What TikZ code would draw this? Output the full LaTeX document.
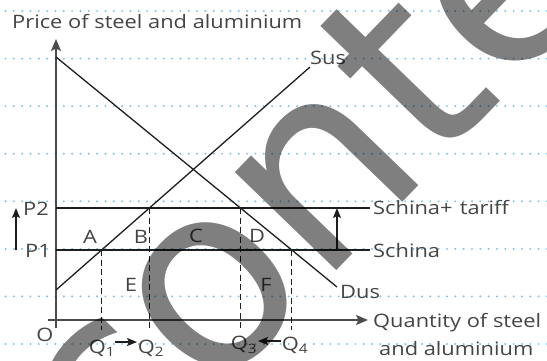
\documentclass[tikz,border=0pt]{standalone}
\usepackage{fontspec}
\setmainfont{Open Sans}
\newfontfamily\wmfont{DejaVu Sans}
\usetikzlibrary{arrows.meta,intersections}
\definecolor{dotblue}{HTML}{7CC2EE}
\definecolor{ink}{HTML}{1E1E1E}
\definecolor{txt}{HTML}{444444}
\begin{document}
\begin{tikzpicture}[x=1pt,y=-1pt,
  lbl/.style={inner sep=0, text=txt, font=\fontsize{18.5}{18.5}\selectfont, xscale=1.18},
  curve/.style={draw=ink, line width=1.3pt},
  axisline/.style={draw=ink!80, line width=1.3pt, -{Stealth[length=12pt,width=10pt,inset=2.5pt]}},
  guide/.style={draw=ink, line width=1.1pt, dash pattern=on 6pt off 3.5pt},
  shiftarrow/.style={draw=ink, line width=1.2pt, -{Stealth[length=10pt,width=8pt,inset=2pt]}},
  dotrow/.style={draw=dotblue, line width=2.2pt, line cap=round, dash pattern=on 0pt off 8.33pt},
]
\useasboundingbox (0,0) rectangle (547,360);
\clip (0,0) rectangle (547,360);
% ruled dotted rows
\foreach \yy in {11,58.6,106.1,153.7,201.3,248.9,296.4,344} {
  \draw[dotrow] (5.5,\yy) -- (547,\yy);
}
% key points
\coordinate (ytip) at (56,39);
\coordinate (ybot) at (56,328);
\coordinate (xstart) at (48,320);
\coordinate (xtip) at (368,320);
\coordinate (dtop) at (56,57);
\coordinate (dend) at (337,287);
\coordinate (sbot) at (56,290);
\coordinate (stop) at (310,67);
\coordinate (p2l) at (56,208);
\coordinate (p2r) at (370,208);
\coordinate (p1l) at (56,250);
\coordinate (p1r) at (370,250);
% axes
\draw[axisline] (ybot) -- (ytip);
\draw[axisline] (xstart) -- (xtip);
% price lines
\draw[curve, name path=ptwo] (p2l) -- (p2r);
\draw[curve, name path=pone] (p1l) -- (p1r);
% demand and supply
\draw[curve, name path=dus] (dtop) -- (dend);
\draw[curve, name path=sus] (sbot) -- (stop);
\path[name intersections={of=sus and pone, by=q1p}];
\path[name intersections={of=sus and ptwo, by=q2p}];
\path[name intersections={of=dus and ptwo, by=q3p}];
\path[name intersections={of=dus and pone, by=q4p}];
\coordinate (q1b) at (q1p |- 0,330);
\coordinate (q2b) at (q2p |- 0,330);
\coordinate (q3b) at (q3p |- 0,330);
\coordinate (q4b) at (q4p |- 0,330);
\draw[guide] (q1p) -- (q1b);
\draw[guide] (q2p) -- (q2b);
\draw[guide] (q3p) -- (q3b);
\draw[guide] (q4p) -- (q4b);
% shift arrows
\coordinate (la0) at (16,250); \coordinate (la1) at (16,208);
\coordinate (ra0) at (337,250); \coordinate (ra1) at (337,208);
\coordinate (qa0) at (115,342); \coordinate (qa1) at (137,342);
\coordinate (qb0) at (281,341); \coordinate (qb1) at (258,341);
\draw[shiftarrow] (la0) -- (la1);
\draw[shiftarrow] (ra0) -- (ra1);
\draw[shiftarrow] (qa0) -- (qa1);
\draw[shiftarrow] (qb0) -- (qb1);
% labels
\node[lbl, anchor=base west] (title) at (12,28) {Price of steel and aluminium};
\node[lbl, anchor=base west] (sus) at (310,64) {Sus};
\node[lbl, anchor=base west] (sct) at (373,214) {Schina+\,\,tariff};
\node[lbl, anchor=base west] (sc) at (373,257) {Schina};
\node[lbl, anchor=base west] (dus) at (340,298) {Dus};
\node[lbl, anchor=base west] (qx1) at (373,327) {Quantity of steel};
\node[lbl, anchor=base west] (qx2) at (379,355) {and aluminium};
\node[lbl, anchor=base west] (ptwo) at (23,215) {P2};
\node[lbl, anchor=base west] (pone) at (25,257) {P1};
\node[lbl] (A) at (90,237) {A};
\node[lbl] (B) at (141,237) {B};
\node[lbl] (C) at (196,236) {C};
\node[lbl] (D) at (257,236) {D};
\node[lbl] (E) at (131,285) {E};
\node[lbl] (F) at (266,285) {F};
\node[lbl] (O) at (45,335) {O};
\node[lbl] (Q1) at (102,348) {Q\textsubscript{1}};
\node[lbl] (Q2) at (151,348) {Q\textsubscript{2}};
\node[lbl] (Q3) at (244,345) {Q\textsubscript{3}};
\node[lbl] (Q4) at (295,345) {Q\textsubscript{4}};
% watermark
\node[rotate=46, anchor=base west, inner sep=0, text=black, text opacity=0.5,
  font=\wmfont\fontsize{258}{258}\selectfont] (wm) at (112,503) {content};
\end{tikzpicture}
\end{document}
